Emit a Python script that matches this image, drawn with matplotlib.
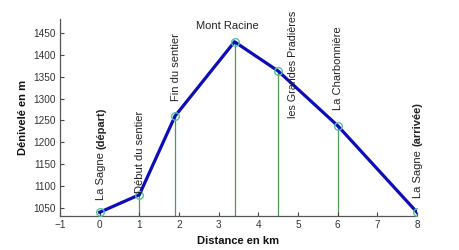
import matplotlib
matplotlib.use("Agg")
import matplotlib.pyplot as plt

plt.rcParams['font.family'] = ['Liberation Sans', 'DejaVu Sans']

distance_km = [0, 1, 1.9, 3.4, 4.5, 6, 8]
altitude_m = [1040, 1080, 1260, 1430, 1363, 1238, 1040]
x_ticks = [-1, 0, 1, 2, 3, 4, 5, 6, 7, 8]
y_ticks = [1050, 1100, 1150, 1200, 1250, 1300, 1350, 1400, 1450]

fig = plt.figure(figsize=(4.6, 2.5), dpi=100)
ax = fig.add_axes([60/460, 34/250, 357/460, 197/250])
ax.set_xlim(-1, 8)
ax.set_ylim(1031.5, 1482)

ymin = ax.get_ylim()[0]
for x, y in zip(distance_km, altitude_m):
    ax.plot([x, x], [ymin, y], color='#4f9a55', lw=0.9, zorder=1)
ax.plot(distance_km, altitude_m, color='#0c0cb8', lw=2.3, zorder=2)
ax.plot(distance_km, altitude_m, 'o', mfc='none', mec='#55c0a0', ms=5.5, mew=1.0, zorder=3)

fs = 8
tc = '#222222'
def vlabel(i, txt, dy, dx=0, bold=False):
    ax.annotate(txt, (distance_km[i], altitude_m[i]), xytext=(dx, dy), textcoords='offset points',
                rotation=90, ha='center', va='bottom', fontsize=fs, color=tc,
                fontweight='bold' if bold else 'normal')

vlabel(0, 'La Sagne', 8.6, 1.2)
vlabel(0, '(départ)', 45.5, 1.2, bold=True)
vlabel(1, 'Début du sentier', 1.5, 0.8)
vlabel(2, 'Fin du sentier', 10.5, 0.6)
ax.annotate('les Grandes Pradières', (distance_km[4], altitude_m[4]), xytext=(10.5, -33.8),
            textcoords='offset points', rotation=90, ha='center', va='bottom', fontsize=7.7, color=tc)
vlabel(5, 'La Charbonnière', 11.5, 0.2)
vlabel(6, 'La Sagne', 10, 0.7)
vlabel(6, '(arrivée)', 47.5, 0.7, bold=True)
ax.annotate('Mont Racine', (distance_km[3], altitude_m[3]), xytext=(-5, 8), textcoords='offset points',
            ha='center', va='bottom', fontsize=fs, color=tc)

ax.set_xticks(x_ticks)
ax.set_yticks(y_ticks)
ax.tick_params(direction='in', length=3, width=0.8, labelsize=7.2, colors='#444444', labelcolor='#333333', pad=3)
for s in ['top', 'right']:
    ax.spines[s].set_visible(False)
for s in ['left', 'bottom']:
    ax.spines[s].set_color('#555555')
    ax.spines[s].set_linewidth(0.9)

ax.set_xlabel('Distance en km', fontsize=8, fontweight='bold', color='#111111', labelpad=4)
ax.set_ylabel('Dénivelé en m', fontsize=8, fontweight='bold', color='#111111', labelpad=3.5)

fig.savefig('out.png', dpi=100)
